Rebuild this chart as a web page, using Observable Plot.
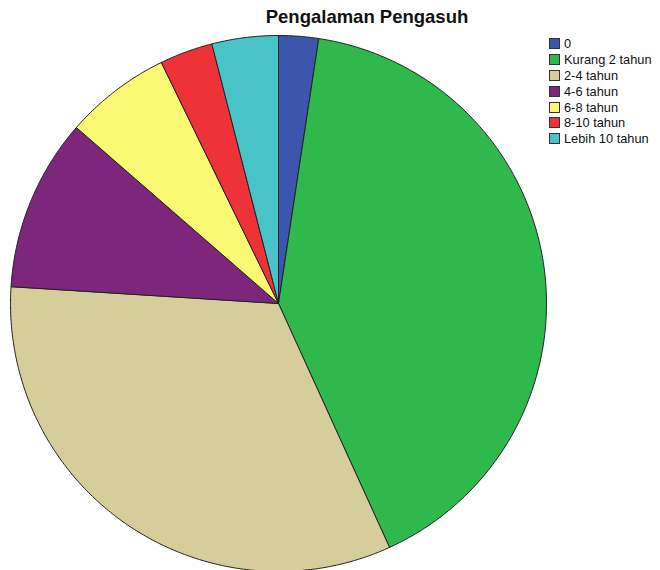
<!DOCTYPE html>
<html>
<head>
<meta charset="utf-8">
<script src="https://cdn.jsdelivr.net/npm/d3@7"></script>
<script src="https://cdn.jsdelivr.net/npm/@observablehq/plot@0.6"></script>
<style>
  body { margin: 0; background: #fff; font-family: "Liberation Sans", Arial, sans-serif; }
  #wrap { position: relative; width: 660px; height: 570px; overflow: hidden; }
  #title { position: absolute; left: 0; width: 734px; top: 6px; text-align: center; font-weight: bold; font-size: 18.5px; color: #111; }
  #legend { position: absolute; left: 549px; top: 36px; font-size: 12.8px; color: #111; }
  .row { display: flex; align-items: center; height: 15.8px; }
  .sw { width: 11px; height: 11px; border: 1px solid #333; box-sizing: border-box; margin-right: 4px; }
</style>
</head>
<body>
<div id="wrap">
  <div id="chart"></div>
  <div id="title">Pengalaman Pengasuh</div>
  <div id="legend"></div>
</div>
<script>
const categories = ["0", "Kurang 2 tahun", "2-4 tahun", "4-6 tahun", "6-8 tahun", "8-10 tahun", "Lebih 10 tahun"];
const counts = [3, 51, 41, 13, 8, 4, 5];
const colors = ["#3d56ad", "#2fb84b", "#d5cd9a", "#7c267c", "#fbf874", "#ed3338", "#48c3c8"];

const data = categories.map((c, i) => ({category: c, value: counts[i]}));
const arcs = d3.pie().value(d => d.value).sort(null)(data);

const pts = [];
arcs.forEach(a => {
  const cat = a.data.category;
  pts.push({category: cat, x: 0, y: 0});
  const n = Math.max(4, Math.ceil((a.endAngle - a.startAngle) / 0.01));
  for (let k = 0; k <= n; k++) {
    const t = a.startAngle + (a.endAngle - a.startAngle) * k / n;
    pts.push({category: cat, x: Math.sin(t), y: Math.cos(t)});
  }
  pts.push({category: cat, x: 0, y: 0});
});

const chart = Plot.plot({
  width: 660,
  height: 570,
  marginLeft: 10,
  marginRight: 114,
  marginTop: 35,
  marginBottom: 0,
  x: {domain: [-1, 1], axis: null},
  y: {domain: [-267 / 268, 1], axis: null},
  color: {domain: categories, range: colors},
  marks: [
    Plot.line(pts, {x: "x", y: "y", z: "category", fill: "category", stroke: "#222", strokeWidth: 1, curve: "linear"})
  ]
});
document.getElementById("chart").appendChild(chart);

const legend = document.getElementById("legend");
categories.forEach((c, i) => {
  const row = document.createElement("div");
  row.className = "row";
  const sw = document.createElement("div");
  sw.className = "sw";
  sw.style.background = colors[i];
  const lab = document.createElement("span");
  lab.textContent = c;
  row.appendChild(sw);
  row.appendChild(lab);
  legend.appendChild(row);
});
</script>
</body>
</html>
